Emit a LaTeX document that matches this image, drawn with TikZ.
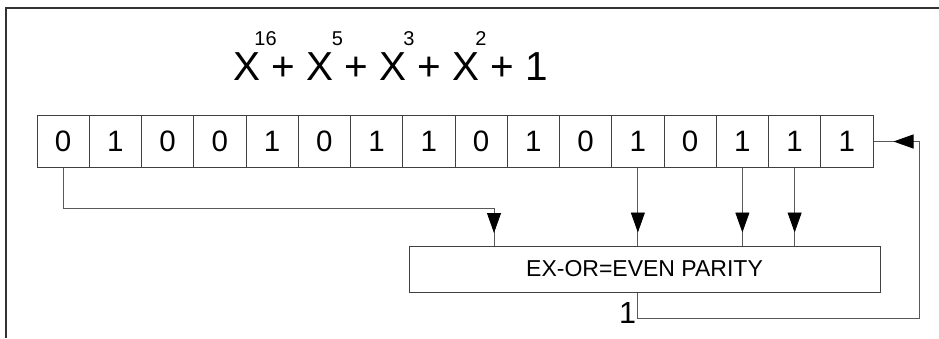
\documentclass[tikz,border=0pt]{standalone}
\usepackage{fontspec}
\setmainfont{Liberation Sans}
\usetikzlibrary{arrows.meta,decorations.markings}

\tikzset{
  bit/.style={draw=black!75, line width=1pt, minimum width=52.25pt, minimum height=52pt,
    inner sep=0pt, font=\fontsize{29.5}{29}\selectfont},
  expo/.style={anchor=base, inner sep=0pt, font=\fontsize{20}{20}\selectfont},
  tap/.style={draw=black!65, line width=0.8pt, postaction={decorate},
    decoration={markings, mark=at position -#1 with {\arrow[black]{Triangle[length=20pt,width=14pt]}}}},
  tap/.default=13pt,
  frame/.style={draw=black!80, line width=1.8pt},
}

\begin{document}
\begin{tikzpicture}[x=1pt, y=-1pt]
\useasboundingbox (0,0) rectangle (939,338);
\draw[frame] (939,8) -- (6,8) -- (6,338);

\node[anchor=base west, inner sep=0pt, font=\fontsize{40.5}{48}\selectfont] (poly) at (233,80) {X + X + X + X + 1};
\node[expo] (e16) at (265.5,45) {16};
\node[expo] (e5) at (337.5,45) {5};
\node[expo] (e3) at (409,45) {3};
\node[expo] (e2) at (481,45) {2};

\node[bit] (c1) at (63.125,141.5) {0};
\node[bit] (c2) at (115.375,141.5) {1};
\node[bit] (c3) at (167.625,141.5) {0};
\node[bit] (c4) at (219.875,141.5) {0};
\node[bit] (c5) at (272.125,141.5) {1};
\node[bit] (c6) at (324.375,141.5) {0};
\node[bit] (c7) at (376.625,141.5) {1};
\node[bit] (c8) at (428.875,141.5) {1};
\node[bit] (c9) at (481.125,141.5) {0};
\node[bit] (c10) at (533.375,141.5) {1};
\node[bit] (c11) at (585.625,141.5) {0};
\node[bit] (c12) at (637.875,141.5) {1};
\node[bit] (c13) at (690.125,141.5) {0};
\node[bit] (c14) at (742.375,141.5) {1};
\node[bit] (c15) at (794.625,141.5) {1};
\node[bit] (c16) at (846.875,141.5) {1};

\node[draw=black!75, line width=1pt, minimum width=471pt, minimum height=46pt,
  font=\fontsize{23}{23}\selectfont] (parity) at (644.5,269) {EX-OR=EVEN PARITY};
\node[anchor=base, inner sep=0pt, font=\fontsize{30.5}{30}\selectfont] (out) at (627.5,323) {1};

\coordinate (in1) at (494,246);
\coordinate (ret) at (919,318);

\draw[tap] (c1.south) -- ++(0,40) -| (in1);
\draw[tap] (c12.south) -- (c12.south |- parity.north);
\draw[tap] (c14.south) -- (c14.south |- parity.north);
\draw[tap] (c15.south) -- (c15.south |- parity.north);
\draw[tap=20pt] (parity.south -| c12.south) |- (ret) |- (c16.east);
\end{tikzpicture}
\end{document}
